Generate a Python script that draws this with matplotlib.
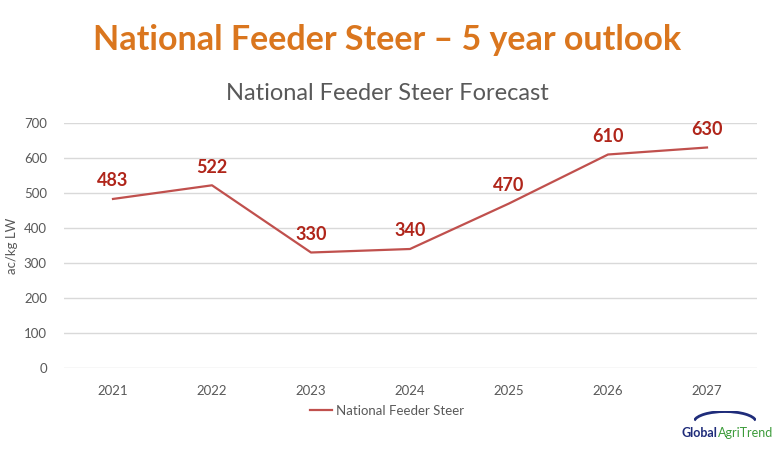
import numpy as np
import matplotlib.pyplot as plt
from matplotlib.patches import Arc

years = ['2021', '2022', '2023', '2024', '2025', '2026', '2027']
prices = [483, 522, 330, 340, 470, 610, 630]
yticks = [0, 100, 200, 300, 400, 500, 600, 700]

plt.rcParams['font.family'] = ['Lato', 'DejaVu Sans']

W, H = 774, 450
fig = plt.figure(figsize=(W / 100, H / 100), dpi=100)
# plot area in pixels: x 63.5..756.5, y 123..368
ax = fig.add_axes([63.5 / W, 1 - 368 / H, (756.5 - 63.5) / W, (368 - 123) / H])

x = np.arange(len(years))
ax.plot(x, prices, color='#C0504D', linewidth=1.6, label='National Feeder Steer')
for xi, v in zip(x, prices):
    ax.annotate(str(v), (xi, v), xytext=(0, 7), textcoords='offset points',
                ha='center', va='bottom', color='#B0251A', fontsize=13, fontweight='bold')

ax.set_xlim(-0.5, len(years) - 0.5)
ax.set_ylim(0, 700)
ax.set_yticks(yticks)
ax.set_xticks(x)
ax.set_xticklabels(years)
ax.tick_params(axis='both', length=0, colors='#595959', labelsize=9.5)
ax.tick_params(axis='x', pad=12)
ax.tick_params(axis='y', pad=12)
ax.grid(axis='y', color='#D9D9D9', linewidth=1)
ax.set_axisbelow(True)
for s in ax.spines.values():
    s.set_visible(False)
ax.set_ylabel('ac/kg LW', color='#595959', fontsize=9.5, labelpad=4)

fig.text(0.5, 1 - 40 / H, 'National Feeder Steer \u2013 5 year outlook', ha='center', va='center',
         color='#DA761E', fontsize=24.5, fontweight='bold')
fig.text(0.5, 1 - 93 / H, 'National Feeder Steer Forecast', ha='center', va='center',
         color='#595959', fontsize=17)

leg = fig.legend(loc='center', bbox_to_anchor=(0.5, 1 - 411 / H), frameon=False,
                 fontsize=9.5, handlelength=1.6, handletextpad=0.3)
for t in leg.get_texts():
    t.set_color('#595959')

# logo
fig.text(717 / W, 1 - 433 / H, 'Global', ha='right', va='center', color='#1F2C7A',
         fontsize=9, fontweight='bold')
fig.text(718 / W, 1 - 433 / H, 'AgriTrend', ha='left', va='center', color='#3C9B3A',
         fontsize=9)
logo = fig.add_axes([694 / W, 1 - 422 / H, 62 / W, 11 / H])
logo.axis('off')
logo.set_xlim(0, 1)
logo.set_ylim(0, 1)
logo.add_patch(Arc((0.5, 0.0), 1.0, 1.9, theta1=15, theta2=165, color='#1F2C7A', linewidth=2))

fig.savefig('out.png', dpi=100)
